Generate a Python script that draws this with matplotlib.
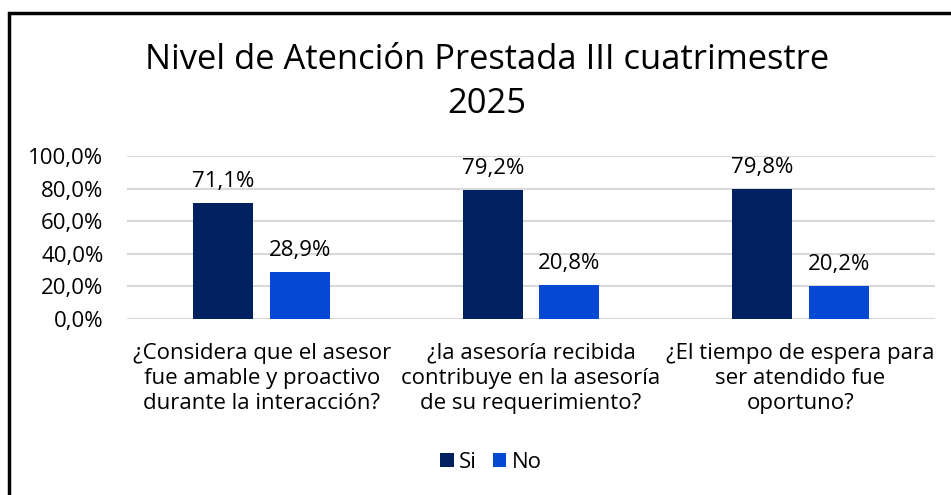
import matplotlib
matplotlib.use('Agg')
from matplotlib import pyplot as plt
from matplotlib.patches import Rectangle
import numpy as np

plt.rcParams['font.family'] = ['Open Sans', 'DejaVu Sans']

categories = ['¿Considera que el asesor\nfue amable y proactivo\ndurante la interacción?',
              '¿la asesoría recibida\ncontribuye en la asesoría\nde su requerimiento?',
              '¿El tiempo de espera para\nser atendido fue\noportuno?']
si_values = [71.1, 79.2, 79.8]
no_values = [28.9, 20.8, 20.2]
series_labels = ['Si', 'No']
title = 'Nivel de Atención Prestada III cuatrimestre\n2025'
yticks = [0, 20, 40, 60, 80, 100]

colors = ['#002060', '#0548D4']

fig = plt.figure(figsize=(9.51, 4.95), dpi=100)
ax = fig.add_axes([127 / 951, 1 - 319 / 495, 808 / 951, 163 / 495])

x = np.arange(len(categories))
bw = 0.223
off = 0.142
bars_si = ax.bar(x - off, si_values, width=bw, color=colors[0], label=series_labels[0], zorder=3)
bars_no = ax.bar(x + off, no_values, width=bw, color=colors[1], label=series_labels[1], zorder=3)

for bars, vals in ((bars_si, si_values), (bars_no, no_values)):
    for b, v in zip(bars, vals):
        ax.annotate('{:.1f}%'.format(v).replace('.', ','),
                    (b.get_x() + b.get_width() / 2, v), xytext=(0, 8),
                    textcoords='offset points', ha='center', va='bottom', fontsize=16)

ax.set_xlim(-0.5, 2.5)
ax.set_ylim(0, 100)
ax.set_yticks(yticks)
ax.set_yticklabels(['{:.1f}%'.format(t).replace('.', ',') for t in yticks], fontsize=16)
ax.set_xticks(x)
ax.set_xticklabels(categories, fontsize=16, linespacing=1.25)
ax.tick_params(axis='both', length=0)
ax.tick_params(axis='x', pad=17)
ax.tick_params(axis='y', pad=17)
ax.grid(axis='y', color='#d9d9d9', lw=1.5, zorder=0)
for s in ax.spines.values():
    s.set_visible(False)

fig.text(487 / 951, 1 - 82 / 495, title, ha='center', va='center', fontsize=24.8, linespacing=1.38)

fig.legend(handles=[bars_si, bars_no], labels=series_labels, loc='center',
           bbox_to_anchor=(491 / 951, 1 - 462 / 495), ncol=2, frameon=False, fontsize=16,
           handlelength=0.6, handleheight=0.6, handletextpad=0.25, columnspacing=0.7)

fig.patches.append(Rectangle((9 / 951, -0.1), 1.2, 1.1 - 13 / 495, transform=fig.transFigure,
                             fill=False, edgecolor='black', lw=2.5))

plt.savefig('out.png', dpi=100)
plt.close()
